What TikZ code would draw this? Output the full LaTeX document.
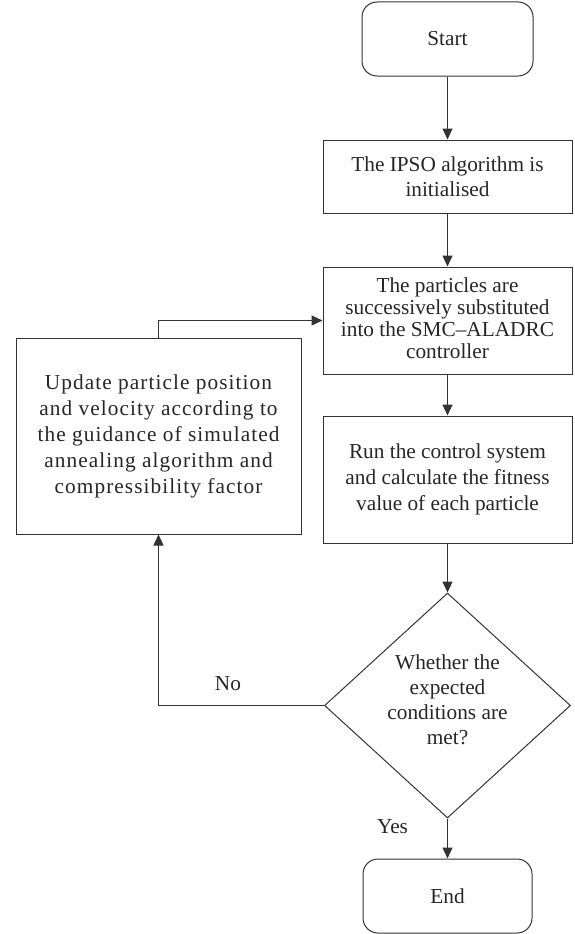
\documentclass[tikz,border=0pt]{standalone}
\usepackage{fontspec}
\setmainfont{Liberation Serif}
\usetikzlibrary{arrows.meta,shapes.geometric}
\begin{document}
\begin{tikzpicture}[x=1pt,y=-1pt,
  every node/.style={font=\fontsize{21.3}{25}\selectfont, text=black!85},
  box/.style={draw=black!80, line width=1pt, rectangle, align=center, inner sep=0pt},
  term/.style={box, rounded corners=15pt},
  dec/.style={draw=black!80, line width=1pt, diamond, inner sep=0pt, minimum width=246pt, minimum height=225pt},
  arr/.style={draw=black!80, line width=1pt, -{Triangle[length=11pt,width=10pt]}},
  lbl/.style={inner sep=0pt}
]
\useasboundingbox (0,0) rectangle (575,934);
\node[term, minimum width=171pt, minimum height=74pt] (start) at (447.5,39) {Start};
\node[box, minimum width=249pt, minimum height=73pt] (init) at (447.5,176.5) {The IPSO algorithm is\\initialised};
\node[box, minimum width=249pt, minimum height=107pt] (subst) at (447.5,320.5) {\raisebox{-6pt}[0pt][0pt]{\makebox[0pt]{\fontsize{21.3}{22}\selectfont\begin{tabular}{@{}c@{}}The particles are\\successively substituted\\into the SMC--ALADRC\\controller\end{tabular}}}};
\node[box, minimum width=249pt, minimum height=127pt, font=\fontsize{21.3}{26}\selectfont] (run) at (447.5,479.5) {Run the control system\\and calculate the fitness\\value of each particle};
\node[box, minimum width=285pt, minimum height=196pt, font=\fontsize{21.3}{26}\selectfont\addfontfeature{LetterSpace=5}] (update) at (158.5,436) {Update particle position\\and velocity according to\\the guidance of simulated\\annealing algorithm and\\compressibility factor};
\node[dec] (cond) at (447.5,705.5) {\raisebox{-2pt}[0pt][0pt]{\makebox[0pt]{\fontsize{21.3}{25}\selectfont\begin{tabular}{@{}c@{}}Whether the\\expected\\conditions are\\met?\end{tabular}}}};
\node[term, minimum width=169pt, minimum height=74pt] (end) at (447.5,896) {End};
\draw[arr] (start.south) -- (init.north);
\draw[arr] (init.south) -- (subst.north);
\draw[arr] (subst.south) -- (run.north);
\draw[arr] (run.south) -- (cond.north);
\draw[arr] (cond.south) -- node[lbl, pos=0.2, xshift=-55pt] (yes) {Yes} (end.north);
\draw[arr] (cond.west) -| node[lbl, pos=0.29, above=14pt] (no) {No} (update.south);
\draw[arr] (update.north) |- (subst.west);
\end{tikzpicture}
\end{document}
